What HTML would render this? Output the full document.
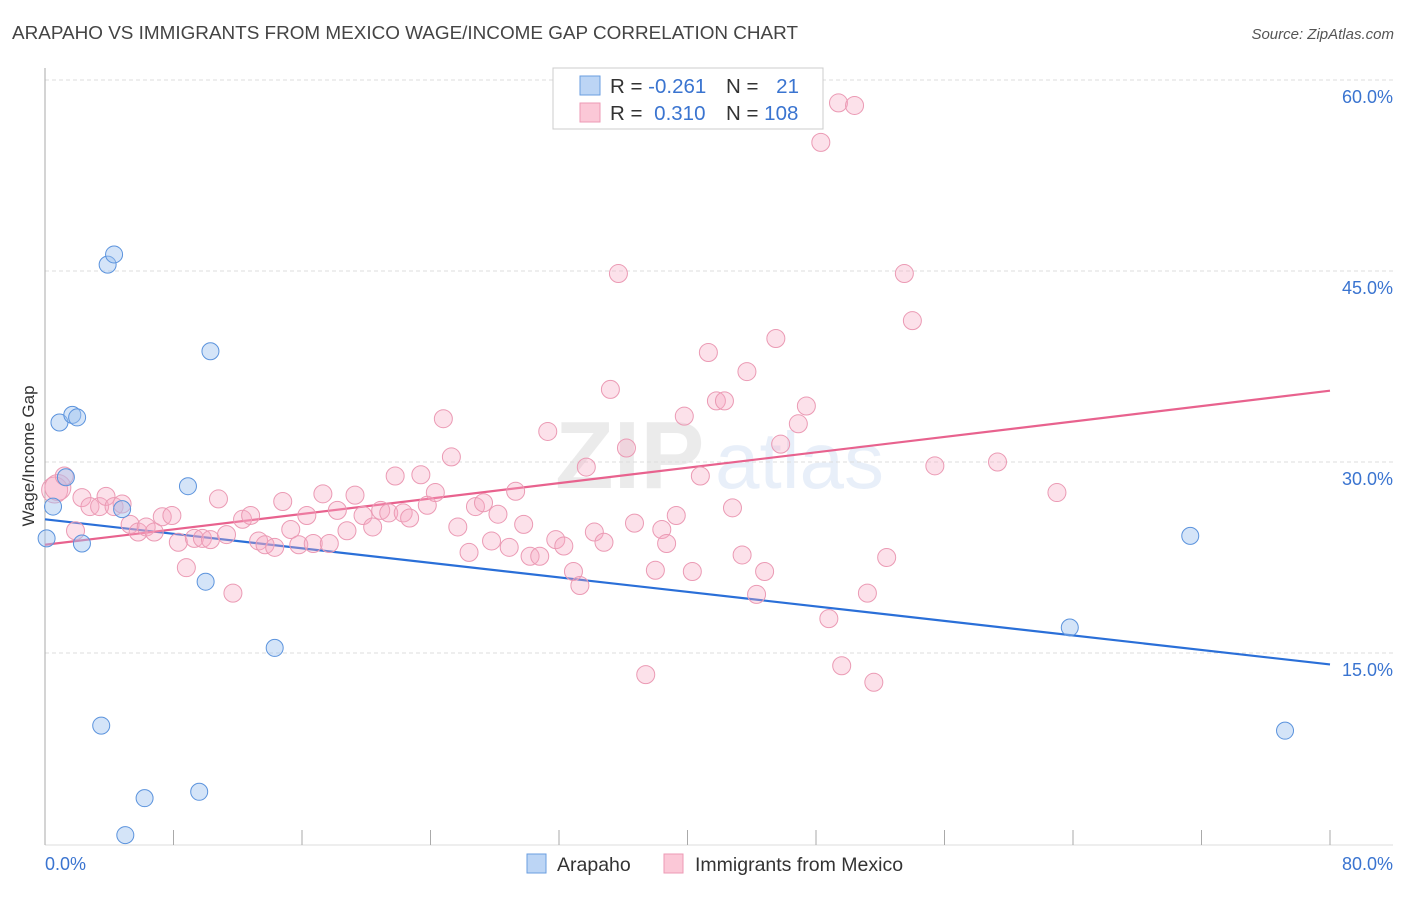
<!DOCTYPE html>
<html><head><meta charset="utf-8"><style>
body{margin:0;background:#fff;font-family:"Liberation Sans",sans-serif;}
svg text{font-family:"Liberation Sans",sans-serif;}
</style></head><body>
<svg id="chart" width="1406" height="892" xmlns="http://www.w3.org/2000/svg">
<text x="12" y="39" font-size="18.5" fill="#444" textLength="786" lengthAdjust="spacingAndGlyphs">ARAPAHO VS IMMIGRANTS FROM MEXICO WAGE/INCOME GAP CORRELATION CHART</text>
<text x="1394" y="39" font-size="15" fill="#555" text-anchor="end" font-style="italic">Source: ZipAtlas.com</text>
<g opacity="0.12">
<text x="555" y="488" font-size="96" font-family="Liberation Serif" fill="#666" font-weight="bold">ZIP</text>
<text x="715" y="488" font-size="80" fill="#4a7fd0">atlas</text>
</g>
<g id="grid"></g>
<g id="axes"></g>
<g id="trend"></g>
<g id="pts"></g>
<text transform="translate(34,456) rotate(-90)" font-size="17" fill="#333" text-anchor="middle">Wage/Income Gap</text>
<g>
<rect x="553" y="68" width="270" height="61" fill="#fff" stroke="#ccc"/>
<rect x="580" y="76" width="20" height="19" fill="#bcd5f5" stroke="#6a9ee0"/>
<rect x="580" y="103" width="20" height="19" fill="#fbc8d7" stroke="#ec9ab4"/>
<text x="610" y="93" font-size="20.5" fill="#333">R = <tspan fill="#3a74d0">-0.261</tspan></text>
<text x="726" y="93" font-size="20.5" fill="#333">N = <tspan fill="#3a74d0" dx="12">21</tspan></text>
<text x="610" y="120" font-size="20.5" fill="#333">R = <tspan fill="#3a74d0" dx="6">0.310</tspan></text>
<text x="726" y="120" font-size="20.5" fill="#333">N = <tspan fill="#3a74d0">108</tspan></text>
</g>
<g>
<rect x="527" y="854" width="19" height="19" fill="#bcd5f5" stroke="#6a9ee0"/>
<text x="557" y="871" font-size="19.5" fill="#333">Arapaho</text>
<rect x="664" y="854" width="19" height="19" fill="#fbc8d7" stroke="#ec9ab4"/>
<text x="695" y="871" font-size="19.5" fill="#333">Immigrants from Mexico</text>
</g>
</svg>
<script>
const yTicks=[15,30,45,60];
const yTickLabels=["15.0%","30.0%","45.0%","60.0%"];
const xTicks=[0,8,16,24,32,40,48,56,64,72,80];
const xEndLabels=["0.0%","80.0%"];
const blueX=[0.1,0.5,0.9,1.7,2.0,1.3,3.9,4.3,2.3,4.8,8.9,10.3,10.0,3.5,6.2,9.6,5.0,14.3,63.8,71.3,77.2];
const blueY=[24.0,26.5,33.1,33.7,33.5,28.8,45.5,46.3,23.6,26.3,28.1,38.7,20.6,9.3,3.6,4.1,0.7,15.4,17.0,24.2,8.9];
const pinkX=[0.6,0.8,1.2,1.9,2.3,2.8,3.4,3.8,4.3,4.8,5.3,5.8,6.3,6.8,7.3,7.9,8.3,8.8,9.3,9.8,10.3,10.8,11.3,11.7,12.3,12.8,13.3,13.7,14.3,14.8,15.3,15.8,16.3,16.7,17.3,17.7,18.2,18.8,19.3,19.8,20.4,20.9,21.4,21.8,22.3,22.7,23.4,23.8,24.3,24.8,25.3,25.7,26.4,26.8,27.3,27.8,28.2,28.9,29.3,29.8,30.2,30.8,31.3,31.8,32.3,32.9,33.3,33.7,34.2,34.8,35.2,35.7,36.2,36.7,37.4,38.0,38.4,38.7,39.3,39.8,40.3,40.8,41.3,41.8,42.3,42.8,43.4,44.3,44.8,45.5,45.8,46.3,46.9,47.4,48.3,48.8,49.4,49.6,50.4,51.2,51.6,52.4,53.5,54.0,55.4,59.3,63.0,43.7];
const pinkY=[27.8,28.0,28.9,24.6,27.2,26.5,26.5,27.3,26.5,26.7,25.1,24.5,24.9,24.5,25.7,25.8,23.7,21.7,24.0,24.0,23.9,27.1,24.3,19.7,25.5,25.8,23.8,23.5,23.3,26.9,24.7,23.5,25.8,23.6,27.5,23.6,26.2,24.6,27.4,25.8,24.9,26.2,26.0,28.9,26.0,25.6,29.0,26.6,27.6,33.4,30.4,24.9,22.9,26.5,26.8,23.8,25.9,23.3,27.7,25.1,22.6,22.6,32.4,23.9,23.4,21.4,20.3,29.6,24.5,23.7,35.7,44.8,31.1,25.2,13.3,21.5,24.7,23.6,25.8,33.6,21.4,28.9,38.6,34.8,34.8,26.4,22.7,19.6,21.4,39.7,31.4,56.9,33.0,34.4,55.1,17.7,58.2,14.0,58.0,19.7,12.7,22.5,44.8,41.1,29.7,30.0,27.6,37.1];
const blueTrend=[25.5,14.1];
const pinkTrend=[23.5,35.6];
const NS="http://www.w3.org/2000/svg";
const sx=v=>45+v*(1285/80);
const sy=v=>844-v*(764/60);
function mk(tag,attrs,parent){const e=document.createElementNS(NS,tag);for(const k in attrs)e.setAttribute(k,attrs[k]);parent.appendChild(e);return e;}
const grid=document.getElementById('grid'),axes=document.getElementById('axes'),trend=document.getElementById('trend'),pts=document.getElementById('pts');
yTicks.forEach((t,i)=>{
 const l=mk('line',{x1:45,x2:1393,y1:sy(t),y2:sy(t),stroke:'#ddd','stroke-dasharray':'4 3'},grid);
 
 
 const tx=mk('text',{x:1393,y:sy(t)+23,'font-size':18,fill:'#3a74d0','text-anchor':'end'},grid);
 tx.textContent=yTickLabels[i];
 
 
});
const ya=mk('line',{x1:45,x2:45,y1:68,y2:845,stroke:'#aaa'},axes);


const xa=mk('line',{x1:45,x2:1393,y1:845,y2:845,stroke:'#ddd'},axes);


xTicks.forEach(t=>{
 const l=mk('line',{x1:sx(t),x2:sx(t),y1:830,y2:845,stroke:'#aaa'},axes);
 
 
});
const xl0=mk('text',{x:45,y:870,'font-size':18,fill:'#3a74d0'},axes);xl0.textContent=xEndLabels[0];


const xl1=mk('text',{x:1393,y:870,'font-size':18,fill:'#3a74d0','text-anchor':'end'},axes);xl1.textContent=xEndLabels[1];


pinkX.forEach((x,i)=>{
 const c=mk('circle',{cx:sx(x),cy:sy(pinkY[i]),r:i<2?13:9,fill:'rgba(246,170,194,0.35)',stroke:'#eb9ab4','stroke-width':1},pts);
 
 
});
blueX.forEach((x,i)=>{
 const c=mk('circle',{cx:sx(x),cy:sy(blueY[i]),r:8.5,fill:'rgba(160,195,240,0.45)',stroke:'#5b93dd','stroke-width':1},pts);
 
 
});
const bl=mk('line',{x1:sx(0),x2:sx(80),y1:sy(blueTrend[0]),y2:sy(blueTrend[1]),stroke:'#2a6fd8','stroke-width':2.2},trend);


const pl=mk('line',{x1:sx(0),x2:sx(80),y1:sy(pinkTrend[0]),y2:sy(pinkTrend[1]),stroke:'#e8628e','stroke-width':2.2},trend);


</script>
</body></html>
